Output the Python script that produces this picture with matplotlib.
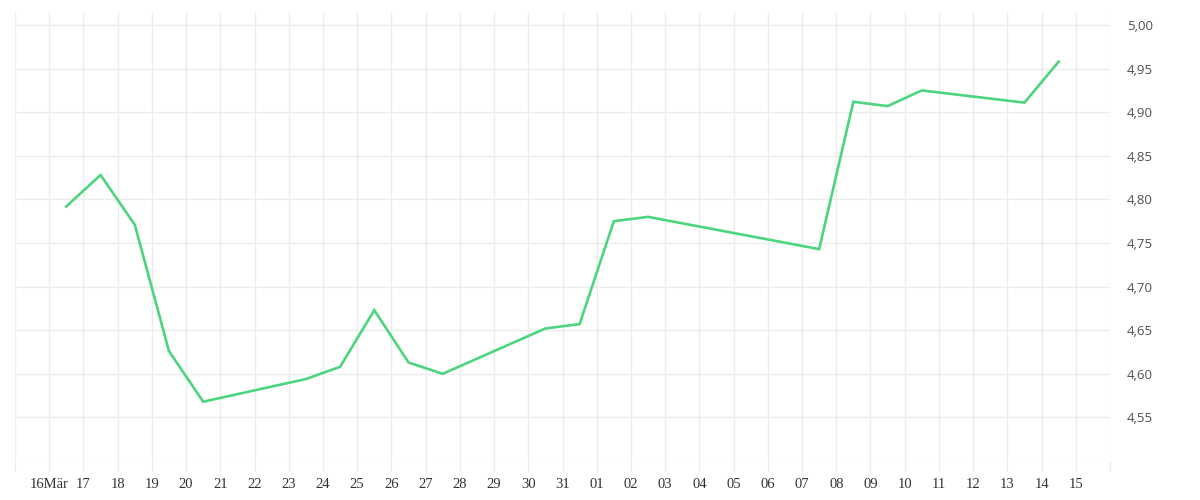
import matplotlib
matplotlib.use("Agg")
import matplotlib.pyplot as plt
from datetime import datetime, timedelta

# Kursdaten (Handelstage, jeweils Mittag)
days = [
    "2015-03-16", "2015-03-17", "2015-03-18", "2015-03-19", "2015-03-20",
    "2015-03-23", "2015-03-24", "2015-03-25", "2015-03-26", "2015-03-27",
    "2015-03-30", "2015-03-31", "2015-04-01", "2015-04-02",
    "2015-04-07", "2015-04-08", "2015-04-09", "2015-04-10",
    "2015-04-13", "2015-04-14",
]
prices = [
    4.792, 4.828, 4.771, 4.626, 4.568,
    4.594, 4.608, 4.673, 4.613, 4.600,
    4.652, 4.657, 4.775, 4.780,
    4.743, 4.912, 4.907, 4.925,
    4.911, 4.958,
]
y_ticks = [4.50, 4.55, 4.60, 4.65, 4.70, 4.75, 4.80, 4.85, 4.90, 4.95, 5.00]

x = [datetime.strptime(d, "%Y-%m-%d") + timedelta(hours=12) for d in days]

fig = plt.figure(figsize=(12, 5), dpi=100)
ax = fig.add_axes([0.0125, 0.078, 0.9125, 0.896])

ax.plot(x, prices, color="#4dd47f", lw=1.9, solid_joinstyle="miter")

start = datetime(2015, 3, 15)
end = datetime(2015, 4, 16)
ax.set_xlim(start, end)
ax.set_ylim(4.50, 5.0138)

tick_days = [start + timedelta(days=i) for i in range((end - start).days + 1)]
labels = []
for d in tick_days:
    if d == start or d == end:
        labels.append("")
    elif d == datetime(2015, 3, 16):
        labels.append("16Mär")
    else:
        labels.append(d.strftime("%d"))
ax.set_xticks(tick_days)
ax.set_xticklabels(labels, fontfamily="Liberation Serif", fontsize=10.5, color="#333333")

ax.yaxis.tick_right()
ax.set_yticks(y_ticks)
ax.set_yticklabels(["" if v == 4.50 else f"{v:.2f}".replace(".", ",") for v in y_ticks],
                   fontfamily="Open Sans", fontsize=9.5, color="#505050")

ax.grid(True, color="#ececec", lw=1)
ax.set_axisbelow(True)
for s in ax.spines.values():
    s.set_visible(False)
ax.tick_params(axis="x", length=7, color="#ececec", width=1, pad=5)
ax.tick_params(axis="y", length=0, pad=12)
for lbl in ax.get_yticklabels():
    lbl.set_horizontalalignment("left")

fig.savefig("out.png", dpi=100)
